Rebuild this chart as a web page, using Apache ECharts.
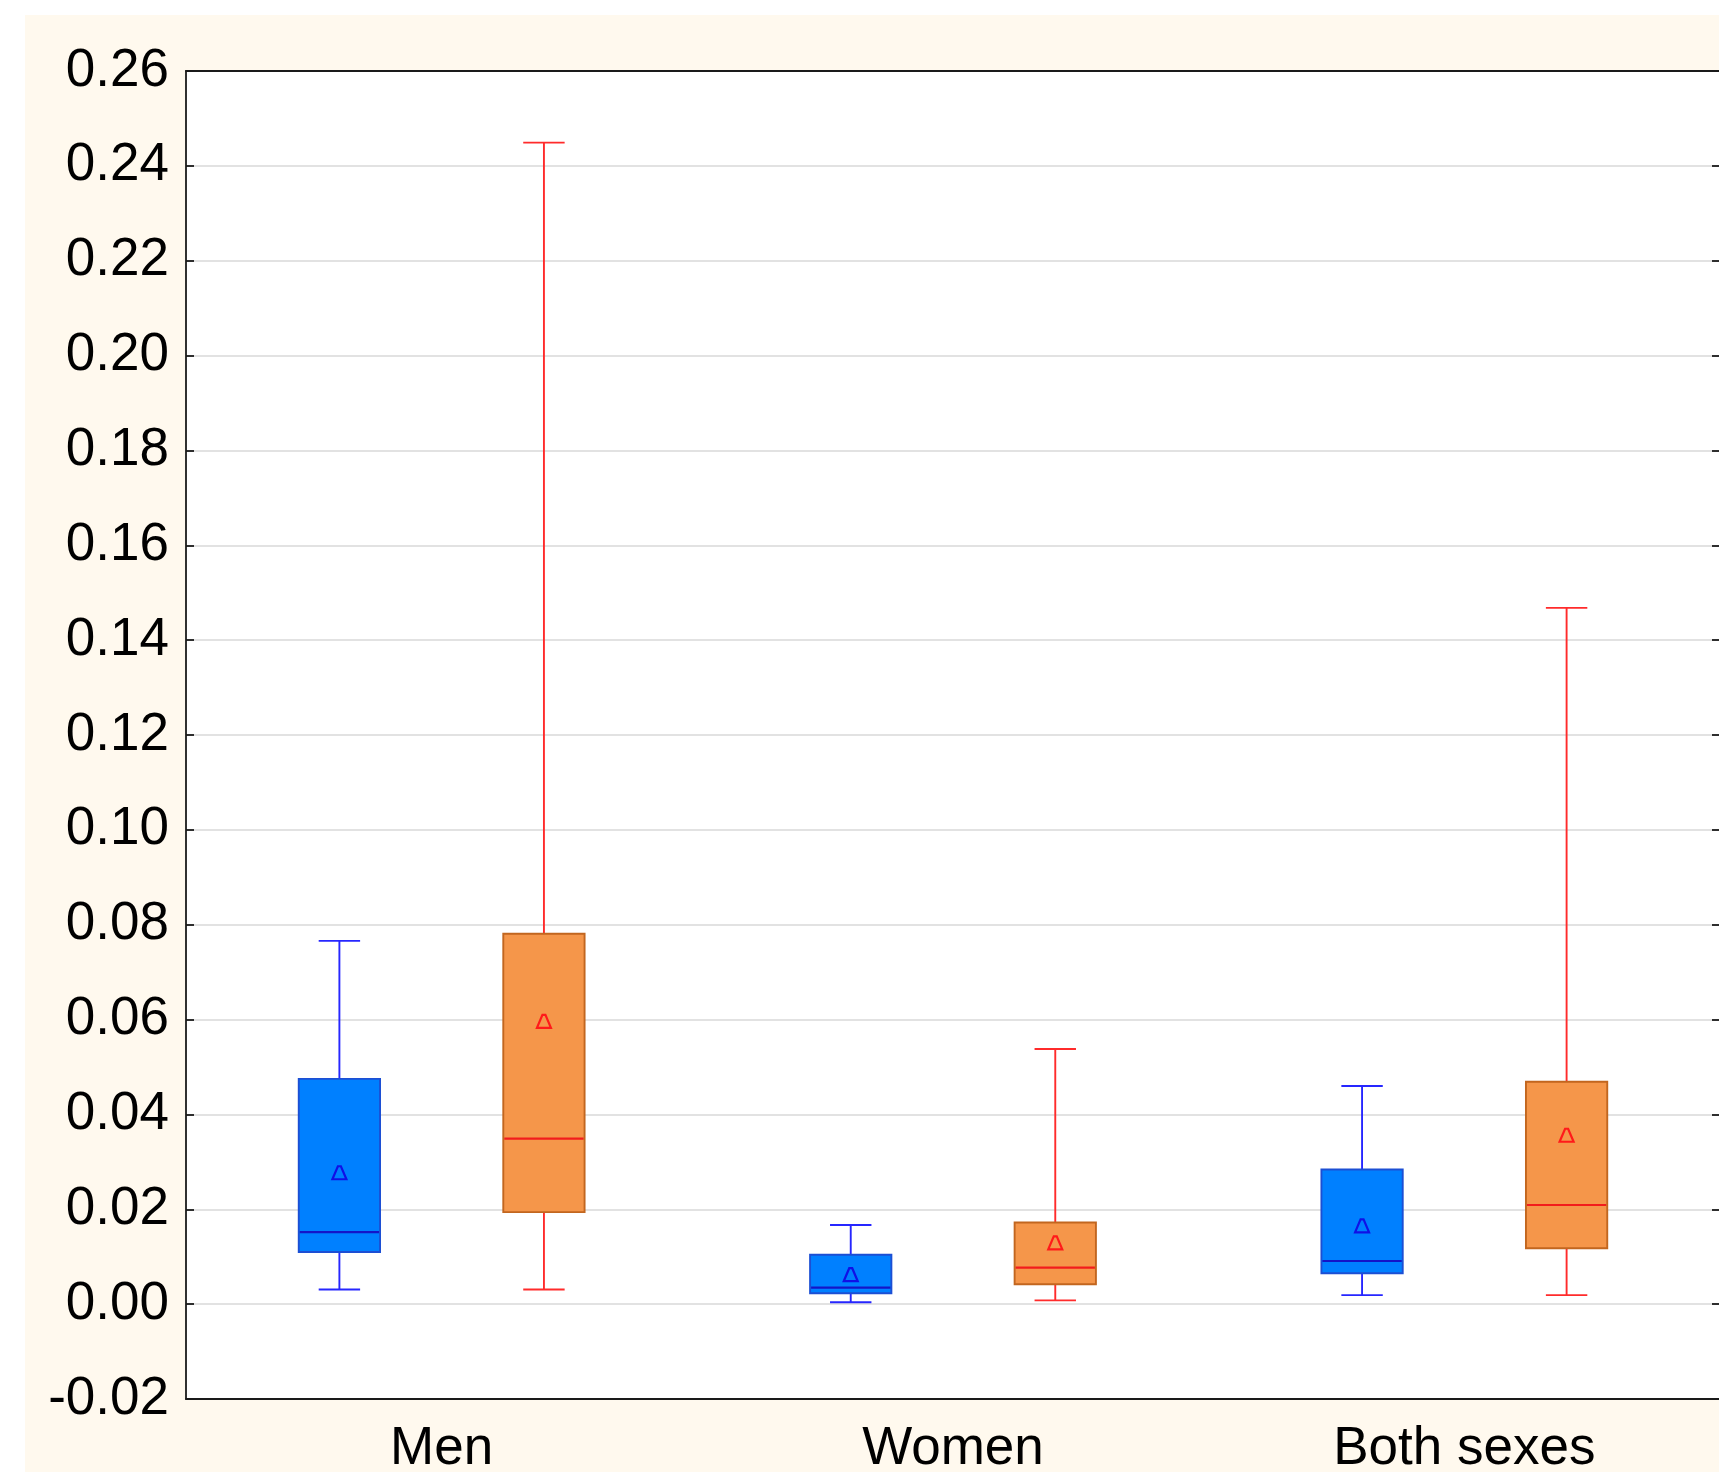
<!DOCTYPE html>
<html>
<head>
<meta charset="utf-8">
<script src="https://cdn.jsdelivr.net/npm/echarts@6/dist/echarts.min.js"></script>
<style>
  html, body { margin: 0; padding: 0; background: #ffffff; }
  #panel { position: absolute; left: 25px; top: 15px; width: 1694px; height: 1457px; background: #fff9ee; }
  #chart { position: absolute; left: 0; top: 0; width: 1719px; height: 1472px; }
</style>
</head>
<body>
<div id="panel"></div>
<div id="chart"></div>
<script>
// Categories along the x axis
const categories = ['Men', 'Women', 'Both sexes'];

// Box summaries per category: [lower whisker, Q1, median, Q3, upper whisker]
const groupABoxes = [
  [0.0031, 0.0110, 0.0152, 0.0475, 0.0766],
  [0.0004, 0.0023, 0.0035, 0.0104, 0.0167],
  [0.0019, 0.0065, 0.0091, 0.0284, 0.0460]
];
const groupAMeans = [0.0276, 0.0061, 0.0164];

const groupBBoxes = [
  [0.0031, 0.0194, 0.0349, 0.0781, 0.2449],
  [0.0008, 0.0042, 0.0077, 0.0172, 0.0538],
  [0.0019, 0.0118, 0.0209, 0.0469, 0.1468]
];
const groupBMeans = [0.0595, 0.0128, 0.0355];

// Value axis range and step
const yMin = -0.02;
const yMax = 0.26;
const yStep = 0.02;

// Box geometry as fractions of one category band
const BOX_WIDTH = 0.159;
const CAP_WIDTH = 0.081;
const BOX_OFFSET = 0.2;

const styleA = { fill: '#0080ff', border: '#1c4fd4', whisker: '#2626ff', median: '#1414c8', marker: '#1010e6' };
const styleB = { fill: '#f5964a', border: '#c2661f', whisker: '#ff2b2b', median: '#f21c1c', marker: '#ff1a1a' };

function toRows(boxes, means) {
  return boxes.map((b, i) => [i, b[0], b[1], b[2], b[3], b[4], means[i]]);
}

function boxRenderer(offset, st) {
  return function (params, api) {
    const i = api.value(0);
    const band = api.size([1, 0])[0];
    const cx = api.coord([i, 0])[0] + offset * band;
    const half = BOX_WIDTH * band / 2;
    const cap = CAP_WIDTH * band / 2;
    const y = v => api.coord([i, v])[1];
    const lo = y(api.value(1)), q1 = y(api.value(2)), med = y(api.value(3));
    const q3 = y(api.value(4)), hi = y(api.value(5)), mean = y(api.value(6));
    const wStyle = { stroke: st.whisker, lineWidth: 1.9 };
    const t = 7;
    return {
      type: 'group',
      children: [
        { type: 'line', shape: { x1: cx, y1: lo, x2: cx, y2: q1 }, style: wStyle },
        { type: 'line', shape: { x1: cx, y1: q3, x2: cx, y2: hi }, style: wStyle },
        { type: 'line', shape: { x1: cx - cap, y1: lo, x2: cx + cap, y2: lo }, style: wStyle },
        { type: 'line', shape: { x1: cx - cap, y1: hi, x2: cx + cap, y2: hi }, style: wStyle },
        { type: 'rect', shape: { x: cx - half, y: q3, width: 2 * half, height: q1 - q3 },
          style: { fill: st.fill, stroke: st.border, lineWidth: 1.9 } },
        { type: 'line', shape: { x1: cx - half + 1, y1: med, x2: cx + half - 1, y2: med },
          style: { stroke: st.median, lineWidth: 2.2 } },
        { type: 'polygon', shape: { points: [[cx - 1.5, mean - t], [cx + 1.5, mean - t], [cx + t, mean + t - 1], [cx - t, mean + t - 1]] },
          style: { fill: 'none', stroke: st.marker, lineWidth: 2.2 } }
      ]
    };
  };
}

const chart = echarts.init(document.getElementById('chart'), null, { renderer: 'canvas' });

const font = "'Liberation Sans', Arial, sans-serif";
const axisLineStyle = { color: '#1a1a1a', width: 1.8 };

chart.setOption({
  animation: false,
  backgroundColor: 'transparent',
  grid: {
    left: 186, top: 71, width: 1534, height: 1328,
    containLabel: false, outerBoundsMode: 'none',
    show: true, backgroundColor: '#ffffff', borderWidth: 0
  },
  xAxis: [
    {
      type: 'category', data: categories, position: 'bottom',
      axisLine: { onZero: false, lineStyle: axisLineStyle },
      axisTick: { inside: true, alignWithLabel: true, length: 8, lineStyle: axisLineStyle },
      axisLabel: { color: '#000', fontFamily: font, fontSize: 53, margin: 24 },
      splitLine: { show: false }
    },
    {
      type: 'category', data: categories, position: 'top',
      axisLine: { onZero: false, lineStyle: axisLineStyle },
      axisTick: { inside: true, alignWithLabel: true, length: 8, lineStyle: axisLineStyle },
      axisLabel: { show: false },
      splitLine: { show: false }
    }
  ],
  yAxis: [
    {
      type: 'value', min: yMin, max: yMax, interval: yStep, position: 'left',
      axisLine: { show: true, onZero: false, lineStyle: axisLineStyle },
      axisTick: { show: true, inside: true, length: 8, lineStyle: axisLineStyle },
      axisLabel: { color: '#000', fontFamily: font, fontSize: 53, margin: 17,
        formatter: v => v.toFixed(2) },
      splitLine: { show: true, lineStyle: { color: '#d9d9d9', width: 1.6 } }
    },
    {
      type: 'value', min: yMin, max: yMax, interval: yStep, position: 'right',
      axisLine: { show: false, onZero: false },
      axisTick: { show: true, inside: true, length: 8, lineStyle: axisLineStyle },
      axisLabel: { show: false },
      splitLine: { show: false }
    }
  ],
  series: [
    {
      name: 'Group A', type: 'custom', xAxisIndex: 0, yAxisIndex: 0,
      renderItem: boxRenderer(-BOX_OFFSET, styleA),
      encode: { x: 0, y: [1, 2, 3, 4, 5, 6] },
      data: toRows(groupABoxes, groupAMeans)
    },
    {
      name: 'Group B', type: 'custom', xAxisIndex: 0, yAxisIndex: 0,
      renderItem: boxRenderer(BOX_OFFSET, styleB),
      encode: { x: 0, y: [1, 2, 3, 4, 5, 6] },
      data: toRows(groupBBoxes, groupBMeans)
    }
  ]
});
</script>
</body>
</html>
